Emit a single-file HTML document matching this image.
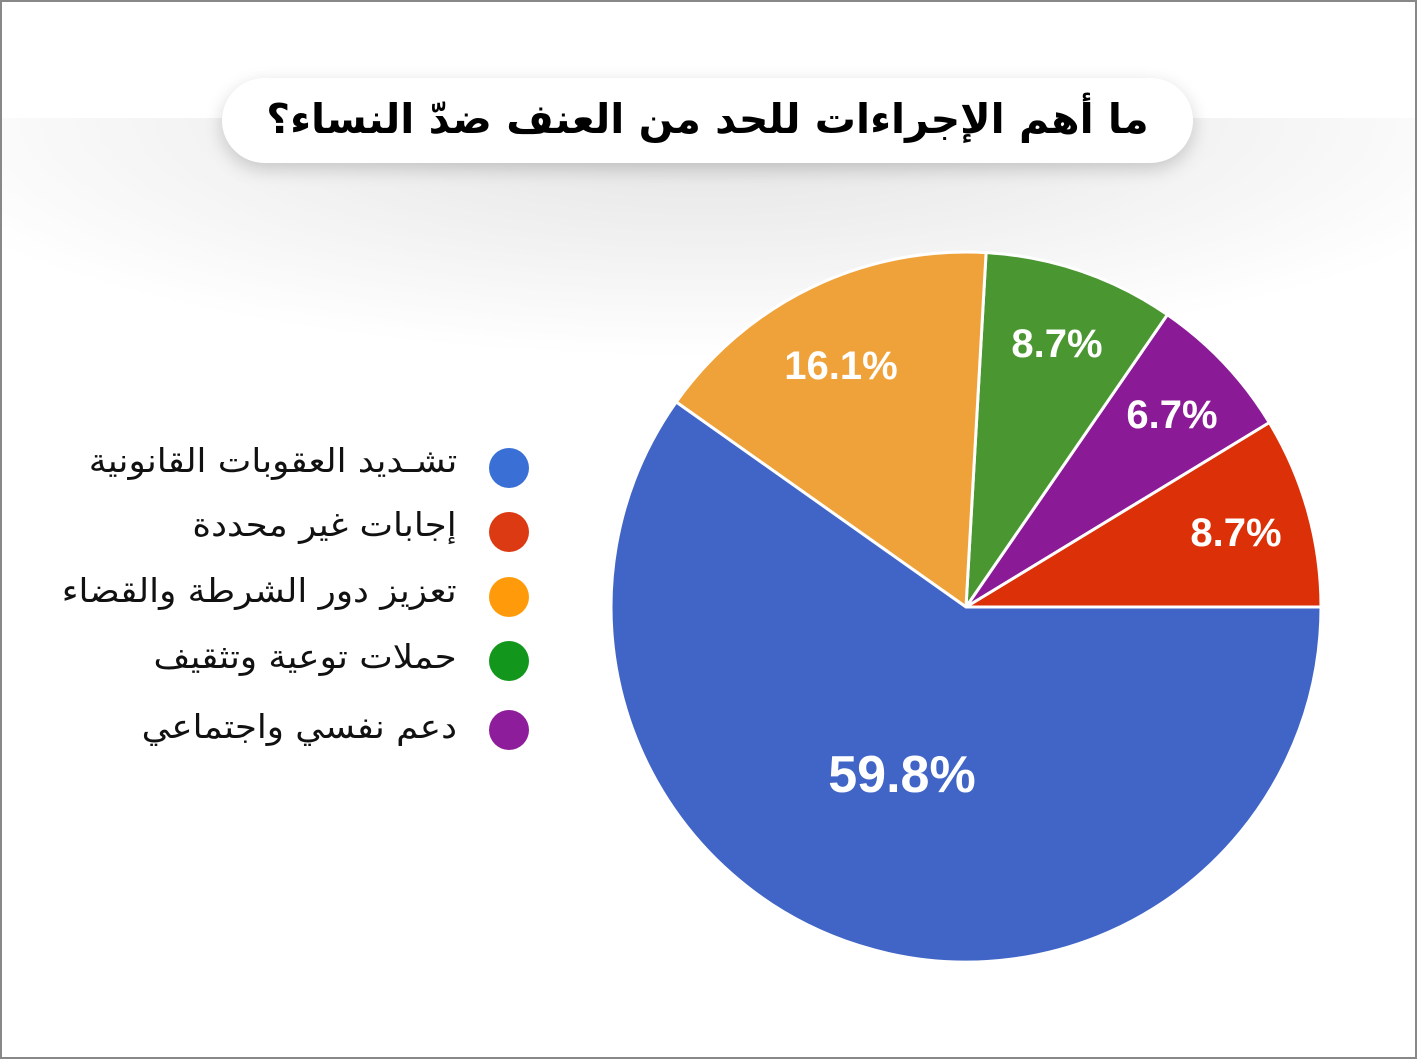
<!DOCTYPE html>
<html><head><meta charset="utf-8"><style>
html,body{margin:0;padding:0}
body{width:1417px;height:1059px;position:relative;overflow:hidden;background:#fff;font-family:"DejaVu Sans","Liberation Sans",sans-serif}
.frame{position:absolute;left:0;top:0;width:1413px;height:1055px;border:2px solid #888}
.band{position:absolute;left:2px;right:2px;top:118px;height:240px;background:radial-gradient(ellipse 60% 100% at 50% 0%,#e2e2e2 0%,#f0f0f0 50%,#fff 100%)}
.title{position:absolute;left:222px;top:78px;width:971px;height:85px;border-radius:43px;background:#fff;box-shadow:0 6px 18px rgba(0,0,0,.18);text-align:center;line-height:82px;font-size:41px;font-weight:bold;color:#000;direction:rtl}
.leg{position:absolute;right:960px;font-size:33px;color:#111;direction:rtl;white-space:nowrap;transform:scaleX(1.08);transform-origin:right center}
</style></head><body>
<div class="frame"></div>
<div class="band"></div>
<div class="title">ما أهم الإجراءات للحد من العنف ضدّ النساء؟</div>
<svg style="position:absolute;left:0;top:0" width="1417" height="1059">
<g stroke="#fff" stroke-width="3" stroke-linejoin="round">
<path d="M966,607 L1321,607 A355,355 0 0 0 1269.3,422.5 Z" fill="#dc3108"/>
<path d="M966,607 L1269.3,422.5 A355,355 0 0 0 1167.4,314.6 Z" fill="#8b1a96"/>
<path d="M966,607 L1167.4,314.6 A355,355 0 0 0 986.1,252.6 Z" fill="#4a9630"/>
<path d="M966,607 L986.1,252.6 A355,355 0 0 0 676.2,402 Z" fill="#f0a23a"/>
<path d="M966,607 L676.2,402 A355,355 0 1 0 1321,607 Z" fill="#4065c6"/>
</g>
<g fill="#fff" font-family="Liberation Sans, sans-serif" font-weight="bold" text-anchor="middle">
<text x="1236" y="546" font-size="40">8.7%</text>
<text x="1172" y="428" font-size="40">6.7%</text>
<text x="1057" y="357" font-size="40">8.7%</text>
<text x="841" y="379" font-size="40">16.1%</text>
<text x="902" y="792" font-size="52">59.8%</text>
</g>
<circle cx="509" cy="468" r="20" fill="#3a6fd6"/>
<circle cx="509" cy="532" r="20" fill="#dc3a12"/>
<circle cx="509" cy="597" r="20" fill="#ff9b0a"/>
<circle cx="509" cy="661" r="20" fill="#12961c"/>
<circle cx="509" cy="730" r="20" fill="#8e1d9b"/>
</svg>
<div class="leg" style="top:441px">تشـديد العقوبات القانونية</div>
<div class="leg" style="top:505px">إجابات غير محددة</div>
<div class="leg" style="top:571px">تعزيز دور الشرطة والقضاء</div>
<div class="leg" style="top:637px">حملات توعية وتثقيف</div>
<div class="leg" style="top:707px">دعم نفسي واجتماعي</div>
</body></html>
